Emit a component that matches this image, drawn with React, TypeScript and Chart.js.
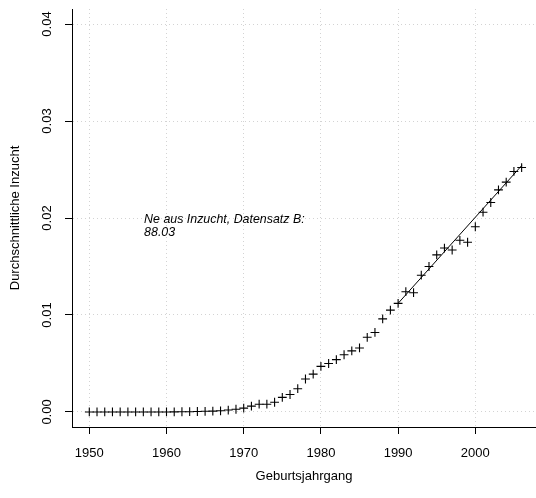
import { useEffect, useRef } from "react";
import { Chart, registerables } from "chart.js";

Chart.register(...registerables);

// Birth cohorts and mean inbreeding coefficient per cohort
const birthYears = [
  1950, 1951, 1952, 1953, 1954, 1955, 1956, 1957, 1958, 1959,
  1960, 1961, 1962, 1963, 1964, 1965, 1966, 1967, 1968, 1969,
  1970, 1971, 1972, 1973, 1974, 1975, 1976, 1977, 1978, 1979,
  1980, 1981, 1982, 1983, 1984, 1985, 1986, 1987, 1988, 1989,
  1990, 1991, 1992, 1993, 1994, 1995, 1996, 1997, 1998, 1999,
  2000, 2001, 2002, 2003, 2004, 2005, 2006,
];

const meanInbreeding = [
  0, 0, 0, 0, 0, 0, 0, 0, 0, 0,
  0, 0.00001, 0.00002, 0.00003, 0.00005, 0.00007, 0.00009, 0.00012, 0.0002, 0.00028,
  0.0004, 0.0006, 0.0008, 0.0008, 0.001, 0.0015, 0.0018, 0.0024, 0.0034, 0.0039,
  0.0047, 0.005, 0.0054, 0.0059, 0.0063, 0.0066, 0.0077, 0.0082, 0.0096, 0.0105,
  0.0112, 0.0124, 0.0123, 0.0141, 0.015, 0.0162, 0.0169, 0.0167, 0.0177, 0.0175,
  0.0191, 0.0206, 0.0216, 0.0229, 0.0237, 0.0248, 0.0252,
];

// Linear regression over the recent cohorts
const fitYears = [1990, 2006];
const fitValues = [0.0112, 0.0254];

const xTickValues = [1950, 1960, 1970, 1980, 1990, 2000];
const yTickValues = [0, 0.01, 0.02, 0.03, 0.04];
const yTickLabels = ["0.00", "0.01", "0.02", "0.03", "0.04"];

const xTitle = "Geburtsjahrgang";
const yTitle = "Durchschnittliche Inzucht";
const noteLines = ["Ne aus Inzucht, Datensatz B:", "88.03"];
const noteAnchor = { x: 1957.1, y: 0.01952 };

const X_MIN = 1947.76;
const X_MAX = 2007.86;
const Y_MIN = -0.00155;
const Y_MAX = 0.04155;

const FONT = "'Liberation Sans', Arial, Helvetica, sans-serif";

const notePlugin = {
  id: "cohortNote",
  afterDatasetsDraw(chart: any) {
    const { ctx, scales } = chart;
    const px = scales.x.getPixelForValue(noteAnchor.x);
    const py = scales.y.getPixelForValue(noteAnchor.y);
    ctx.save();
    ctx.font = `italic 12.4px ${FONT}`;
    ctx.fillStyle = "#000";
    ctx.textAlign = "left";
    ctx.textBaseline = "alphabetic";
    noteLines.forEach((line, i) => ctx.fillText(line, px, py + i * 13));
    ctx.restore();
  },
};

export default function App() {
  const canvasRef = useRef<HTMLCanvasElement | null>(null);

  useEffect(() => {
    if (!canvasRef.current) return;
    const chart = new Chart(canvasRef.current, {
      type: "scatter",
      data: {
        datasets: [
          {
            type: "scatter",
            data: birthYears.map((x, i) => ({ x, y: meanInbreeding[i] })),
            pointStyle: "cross",
            pointRadius: 4.4,
            pointHoverRadius: 4.4,
            borderColor: "#000",
            backgroundColor: "#000",
            borderWidth: 1.1,
          },
          {
            type: "line",
            data: fitYears.map((x, i) => ({ x, y: fitValues[i] })),
            borderColor: "#000",
            borderWidth: 1,
            pointRadius: 0,
            fill: false,
          },
        ],
      },
      options: {
        animation: false,
        responsive: true,
        maintainAspectRatio: false,
        devicePixelRatio: 1,
        layout: { autoPadding: false, padding: { top: 9, right: 0, bottom: 0, left: 0 } },
        plugins: { legend: { display: false }, tooltip: { enabled: false } },
        scales: {
          x: {
            type: "linear",
            min: X_MIN,
            max: X_MAX,
            afterBuildTicks: (s: any) => {
              s.ticks = xTickValues.map((v) => ({ value: v }));
            },
            afterFit: (s: any) => {
              s.height = 71;
              s.paddingLeft = 0;
              s.paddingRight = 0;
            },
            ticks: {
              autoSkip: false,
              maxRotation: 0,
              minRotation: 0,
              padding: 12,
              color: "#000",
              font: { family: FONT, size: 13 },
              callback: (v: any) => String(v),
            },
            grid: {
              color: "#d3d3d3",
              lineWidth: 1,
              drawTicks: true,
              tickLength: 7,
              tickColor: "#000",
              tickWidth: 1,
            },
            border: { display: true, color: "#000", width: 1, dash: [1, 3] },
            title: {
              display: true,
              text: xTitle,
              color: "#000",
              font: { family: FONT, size: 13 },
              padding: { top: 0, bottom: 14 },
            },
          },
          y: {
            type: "linear",
            min: Y_MIN,
            max: Y_MAX,
            afterBuildTicks: (s: any) => {
              s.ticks = yTickValues.map((v) => ({ value: v }));
            },
            afterFit: (s: any) => {
              s.width = 72;
              s.paddingTop = 0;
              s.paddingBottom = 0;
            },
            ticks: {
              autoSkip: false,
              minRotation: 90,
              maxRotation: 90,
              crossAlign: "center",
              padding: 5,
              color: "#000",
              font: { family: FONT, size: 13 },
              callback: (_v: any, i: number) => yTickLabels[i],
            },
            grid: {
              color: "#d3d3d3",
              lineWidth: 1,
              drawTicks: true,
              tickLength: 7,
              tickColor: "#000",
              tickWidth: 1,
            },
            border: { display: true, color: "#000", width: 1, dash: [1, 3] },
            title: {
              display: true,
              text: yTitle,
              color: "#000",
              font: { family: FONT, size: 13 },
              padding: { top: 8, bottom: 0 },
            },
          },
        },
      },
      plugins: [notePlugin],
    } as any);
    return () => chart.destroy();
  }, []);

  return (
    <div style={{ position: "absolute", left: 0, top: 0, width: 536, height: 498, background: "#fff" }}>
      <canvas ref={canvasRef} />
    </div>
  );
}
